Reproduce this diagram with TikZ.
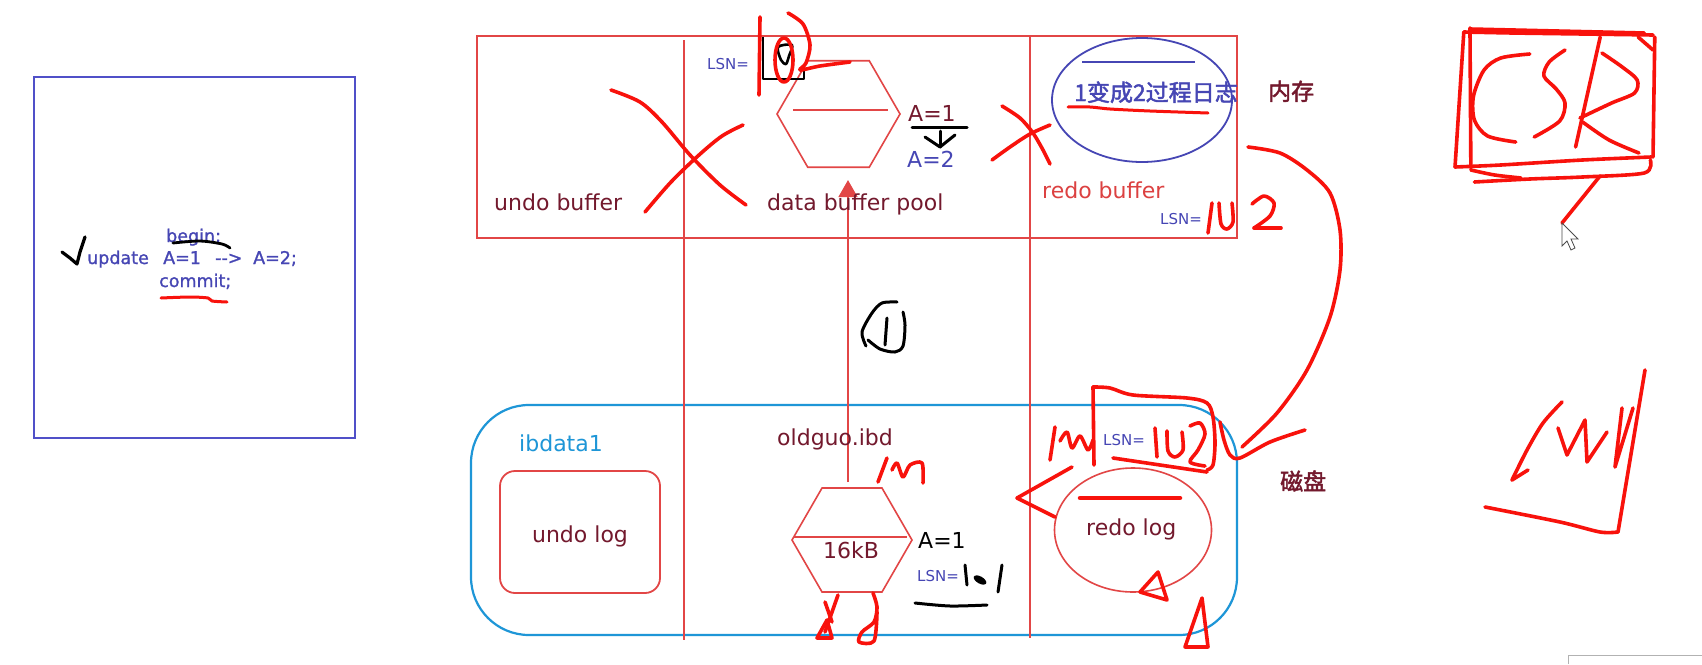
\documentclass[tikz,border=0pt]{standalone}
\usepackage{fontspec}
\setmainfont{DejaVu Sans}
\newfontfamily\sqlfont[FakeBold=1.2]{DejaVu Sans}
\newfontfamily\cjkb[FakeBold=2]{Noto Sans CJK SC}
\usetikzlibrary{shapes.geometric,arrows.meta}
\definecolor{diagred}{RGB}{226,70,70}
\definecolor{pen}{RGB}{248,18,12}
\definecolor{darkred}{RGB}{115,25,45}
\definecolor{txtblue}{RGB}{70,70,180}
\definecolor{boxblue}{RGB}{80,80,200}
\definecolor{skyblue}{RGB}{30,150,215}
\definecolor{redotxt}{RGB}{220,65,65}
\begin{document}
\begin{tikzpicture}[x=1pt,y=-1pt,
  hand/.style={draw=pen, line width=3.6pt, line cap=round, line join=round},
  ink/.style={draw=black, line width=3.2pt, line cap=round, line join=round},
  dline/.style={draw=diagred, line width=1.6pt},
  lbl/.style={font=\fontsize{22}{26}\selectfont, inner sep=0pt, anchor=base west},
  small/.style={font=\fontsize{15}{18}\selectfont, inner sep=0pt, anchor=base west, text=txtblue},
  sql/.style={font=\sqlfont\fontsize{17.5}{20}\selectfont, inner sep=0pt, anchor=base west, text=txtblue},
  cjklbl/.style={font=\cjkb\fontsize{23}{26}\selectfont, inner sep=0pt, anchor=base west},
  hexa/.style={draw=diagred, line width=1.6pt, regular polygon, regular polygon sides=6, inner sep=0pt},
]
\useasboundingbox (0,0) rectangle (1702,664);
\fill[white] (0,0) rectangle (1702,664);

% ---------- left SQL box ----------
\node[draw=boxblue, line width=2.2pt, minimum width=321pt, minimum height=361pt, inner sep=0pt] (sqlbox) at (194.5,257.5) {};
\node[sql] (tbegin) at (166,242) {begin;};
\node[sql] (tupd) at (87,264) {update};
\node[sql] (ta1) at (163,264) {A=1};
\node[sql] (tarr) at (215,264) {-\kern0pt-\kern0pt>};
\node[sql] (ta2) at (253,264) {A=2;};
\node[sql] (tcommit) at (159,287) {commit;};
\draw[ink] (62,252) -- (70,258) -- (77,264) -- (80,252) -- (85,237);
\draw[ink, line width=2.8pt] plot[smooth] coordinates {(173,243) (200,241) (222,244) (230,248)};
\draw[hand, line width=3pt] plot[smooth] coordinates {(161,298) (190,297) (208,298) (212,301) (227,302)};

% ---------- memory / disk frames ----------
\node[draw=diagred, line width=2pt, minimum width=760pt, minimum height=202pt, inner sep=0pt] (mem) at (857,137) {};
\node[draw=skyblue, line width=2.2pt, rounded corners=58pt, minimum width=766pt, minimum height=230pt, inner sep=0pt] (disk) at (854,520) {};
\draw[dline] (684,40) -- (684,640);
\draw[dline] (1030,36) -- (1030,638);

% ---------- hexagons and arrow ----------
\node[hexa, minimum size=123pt] (hexT) at (838.5,114) {};
\draw[dline] (793,110) -- (888,110);
\node[hexa, minimum size=120pt] (hexB) at (852,540) {};
\draw[dline] (794,537) -- (907,537);
\draw[diagred, line width=1.6pt, -{Triangle[length=17pt,width=19pt]}] ([xshift=-4pt,yshift=5pt]hexB.north) -- ([xshift=9.5pt,yshift=-12pt]hexT.south);

% ---------- memory labels ----------
\node[lbl, text=darkred] (undobuf) at (494,210) {undo buffer};
\node[lbl, text=darkred] (databuf) at (767,210) {data buffer pool};
\node[lbl, text=redotxt] (redobuf) at (1042,198) {redo buffer};
\node[small] (lsnR) at (1160,224) {LSN=};
\node[small] (lsnT) at (707,69) {LSN=};
\node[lbl, text=darkred] (a1T) at (908,121) {A=1};
\node[lbl, text=txtblue] (a2T) at (907,167) {A=2};
\node[draw=txtblue, line width=1.8pt, ellipse, minimum width=180pt, minimum height=124pt, inner sep=0pt] (redoE) at (1142,100) {};
\draw[txtblue, line width=1.8pt] (1082,62) -- (1195,62);
\node[cjklbl, text=txtblue] (proc) at (1074,101) {1变成2过程日志};
\node[cjklbl, text=darkred] (neicun) at (1268,100) {内存};
\node[cjklbl, text=darkred] (cipan) at (1280,490) {磁盘};

% ---------- disk labels ----------
\node[lbl, text=skyblue] (ibd1) at (519,451) {ibdata1};
\node[draw=diagred, line width=1.8pt, rounded corners=15pt, minimum width=160pt, minimum height=122pt, inner sep=0pt] (undolog) at (580,532) {};
\node[lbl, text=darkred, anchor=base] (undologt) at (580,542) {undo log};
\node[lbl, text=darkred] (ibd) at (777,445) {oldguo.ibd};
\node[lbl, text=darkred] (kb) at (823,558) {16kB};
\node[lbl, text=black] (a1B) at (918,548) {A=1};
\node[small] (lsnB) at (917,581) {LSN=};
\node[draw=diagred, line width=1.6pt, ellipse, minimum width=157pt, minimum height=124pt, inner sep=0pt] (redolog) at (1133,530) {};
\node[lbl, text=darkred] (redologt) at (1086,535) {redo log};
\node[small] (lsnD) at (1103,445) {LSN=};

% ---------- hand annotations: memory ----------
\draw[hand] plot[smooth] coordinates {(611,90) (640,102) (662,122) (690,155) (720,185) (746,205)};
\draw[hand] plot[smooth] coordinates {(743,125) (722,136) (699,155) (671,182) (645,212)};
\draw[ink, line width=2.6pt, line cap=butt] (763,37) -- (763,79) -- (804,79) -- (804,64);
\draw[ink, line width=2.6pt] plot[smooth cycle] coordinates {(778,47) (792,45) (789,56) (786,64) (781,60)};
\draw[hand] (760,17) -- (759,95);
\draw[hand] (784,60) ellipse [x radius=9pt, y radius=22pt];
\draw[hand] plot[smooth] coordinates {(788,13) (803,24) (810,45) (806,63) (800,70) (820,66) (850,62)};
\draw[ink, line width=3pt] (912,127) -- (967,127);
\draw[ink, line width=3pt] (940,131) -- (940,147);
\draw[ink, line width=3pt] (925,137) -- (940,147) -- (955,135);
\draw[hand] plot[smooth] coordinates {(1002,106) (1020,118) (1033,133) (1043,150) (1050,164)};
\draw[hand] plot[smooth] coordinates {(992,160) (1010,147) (1030,134) (1050,125)};
\draw[hand, line width=3pt] plot[smooth] coordinates {(1068,107) (1090,107) (1110,109) (1150,111) (1208,113)};
\draw[hand] (1212,203) -- (1208,233);
\draw[hand] plot[smooth] coordinates {(1219,203) (1221,224) (1227,229) (1233,222) (1232,203)};
\draw[hand] plot[smooth] coordinates {(1252,204) (1264,196) (1274,203) (1270,216) (1254,228)};
\draw[hand] (1254,228) -- (1281,228);

% curve from redo buffer down to redo log
\draw[hand] plot[smooth] coordinates {(1248,147) (1280,153) (1307,170) (1330,193) (1340,230) (1340,270) (1330,317) (1307,370) (1277,413) (1242,447)};
\draw[hand] plot[smooth] coordinates {(1220,422) (1224,440) (1230,455) (1240,458) (1270,442) (1305,430)};

% ---------- hand annotations: disk ----------
\draw[hand] (1093,387) -- (1094,465);
\draw[hand] plot[smooth] coordinates {(1093,387) (1110,388) (1133,395) (1187,398) (1207,403) (1213,417) (1215,443) (1213,465) (1207,470)};
\draw[hand] plot[smooth] coordinates {(1113,458) (1160,465) (1207,472)};
\draw[hand] (1155,428) -- (1157,457);
\draw[hand] plot[smooth] coordinates {(1167,431) (1168,451) (1175,457) (1183,450) (1182,432)};
\draw[hand] plot[smooth] coordinates {(1190,426) (1200,423) (1205,434) (1198,450) (1190,462) (1205,466)};
\draw[hand] (1055,427) -- (1050,460);
\draw[hand] plot[smooth] coordinates {(1060,441) (1067,432) (1072,448) (1080,436) (1088,450) (1093,440)};
\draw[hand] (1072,467) -- (1017,498) -- (1055,517);
\draw[hand, line width=4.5pt] (1080,498) -- (1180,498);
\draw[hand] (1158,572) -- (1140,592) -- (1167,600) -- cycle;
\draw[hand] (1202,598) -- (1185,647) -- (1208,647) -- cycle;

\draw[hand] (887,458) -- (878,482);
\draw[hand] plot[smooth] coordinates {(892,470) (897,463) (903,477) (910,465) (922,463) (923,483)};
\draw[hand] (838,595) -- (825,632);
\draw[hand] (825,602) -- (832,622);
\draw[hand] (827,620) -- (817,638) -- (832,638) -- cycle;
\draw[hand] plot[smooth] coordinates {(873,593) (877,607) (874,622) (862,632) (859,642) (874,641) (877,612)};
\draw[ink, line width=3pt] (965,565) -- (967,585);
\fill[black, rotate around={-30:(980,580)}] (980,580) ellipse [x radius=7pt, y radius=3.5pt];
\draw[ink, line width=3pt] (1002,565) -- (998,592);
\draw[ink, line width=3pt] plot[smooth] coordinates {(915,603) (950,606) (987,605)};

% circled 1
\draw[ink, line width=3pt] plot[smooth] coordinates {(897,302) (882,303) (872,313) (862,332) (866,346)};
\draw[ink, line width=3pt] (887,318) -- (885,345);
\draw[ink, line width=3pt] plot[smooth] coordinates {(868,340) (880,349) (895,352) (903,346) (905,325) (903,312)};

% ---------- CSR ----------
\begin{scope}[xshift=174.6pt, xscale=0.88]
\draw[hand] (1465,32) -- (1455,167);
\draw[hand] (1472,28) -- (1473,168);
\draw[hand] plot[smooth] coordinates {(1465,32) (1520,33) (1600,34) (1680,35)};
\draw[hand] (1472,29) -- (1670,33);
\draw[hand] (1682,37) -- (1680,157);
\draw[hand] (1663,37) -- (1680,50);
\draw[hand] plot[smooth] coordinates {(1455,167) (1507,165) (1600,160) (1678,157)};
\draw[hand] plot[smooth] coordinates {(1473,170) (1500,175) (1530,178)};
\draw[hand] plot[smooth] coordinates {(1477,182) (1540,179) (1600,177) (1670,173) (1677,160)};
\draw[hand] plot[smooth] coordinates {(1540,54) (1507,58) (1488,70) (1476,96) (1477,120) (1492,136) (1524,142)};
\draw[hand] plot[smooth] coordinates {(1580,50) (1562,62) (1556,76) (1570,89) (1580,103) (1574,121) (1545,137)};
\draw[hand] (1620,37) -- (1592,147);
\draw[hand] plot[smooth] coordinates {(1622,53) (1645,67) (1662,80) (1659,93) (1633,103) (1597,118)};
\draw[hand] plot[smooth] coordinates {(1600,122) (1630,140) (1664,153)};
\end{scope}
\draw[hand] (1600,176) -- (1562,223);
\draw[black!70, fill=white, line width=0.8pt] (1562,223) -- (1562,246) -- (1567,241) -- (1571,250) -- (1575,248) -- (1571,239) -- (1578,239) -- cycle;

% ---------- lower right scribble ----------
\draw[hand] plot[smooth] coordinates {(1562,402) (1543,423) (1527,450) (1512,480)};
\draw[hand] (1512,480) -- (1528,470);
\draw[hand] (1558,428) -- (1567,455) -- (1585,420) -- (1587,462) -- (1607,432);
\draw[hand] (1622,408) -- (1615,467) -- (1633,408);
\draw[hand] (1645,370) -- (1618,532);
\draw[hand] plot[smooth] coordinates {(1485,507) (1560,522) (1600,532) (1618,532)};

\draw[black!30, line width=1pt] (1568,664) -- (1568,655) -- (1702,655);
\end{tikzpicture}
\end{document}
